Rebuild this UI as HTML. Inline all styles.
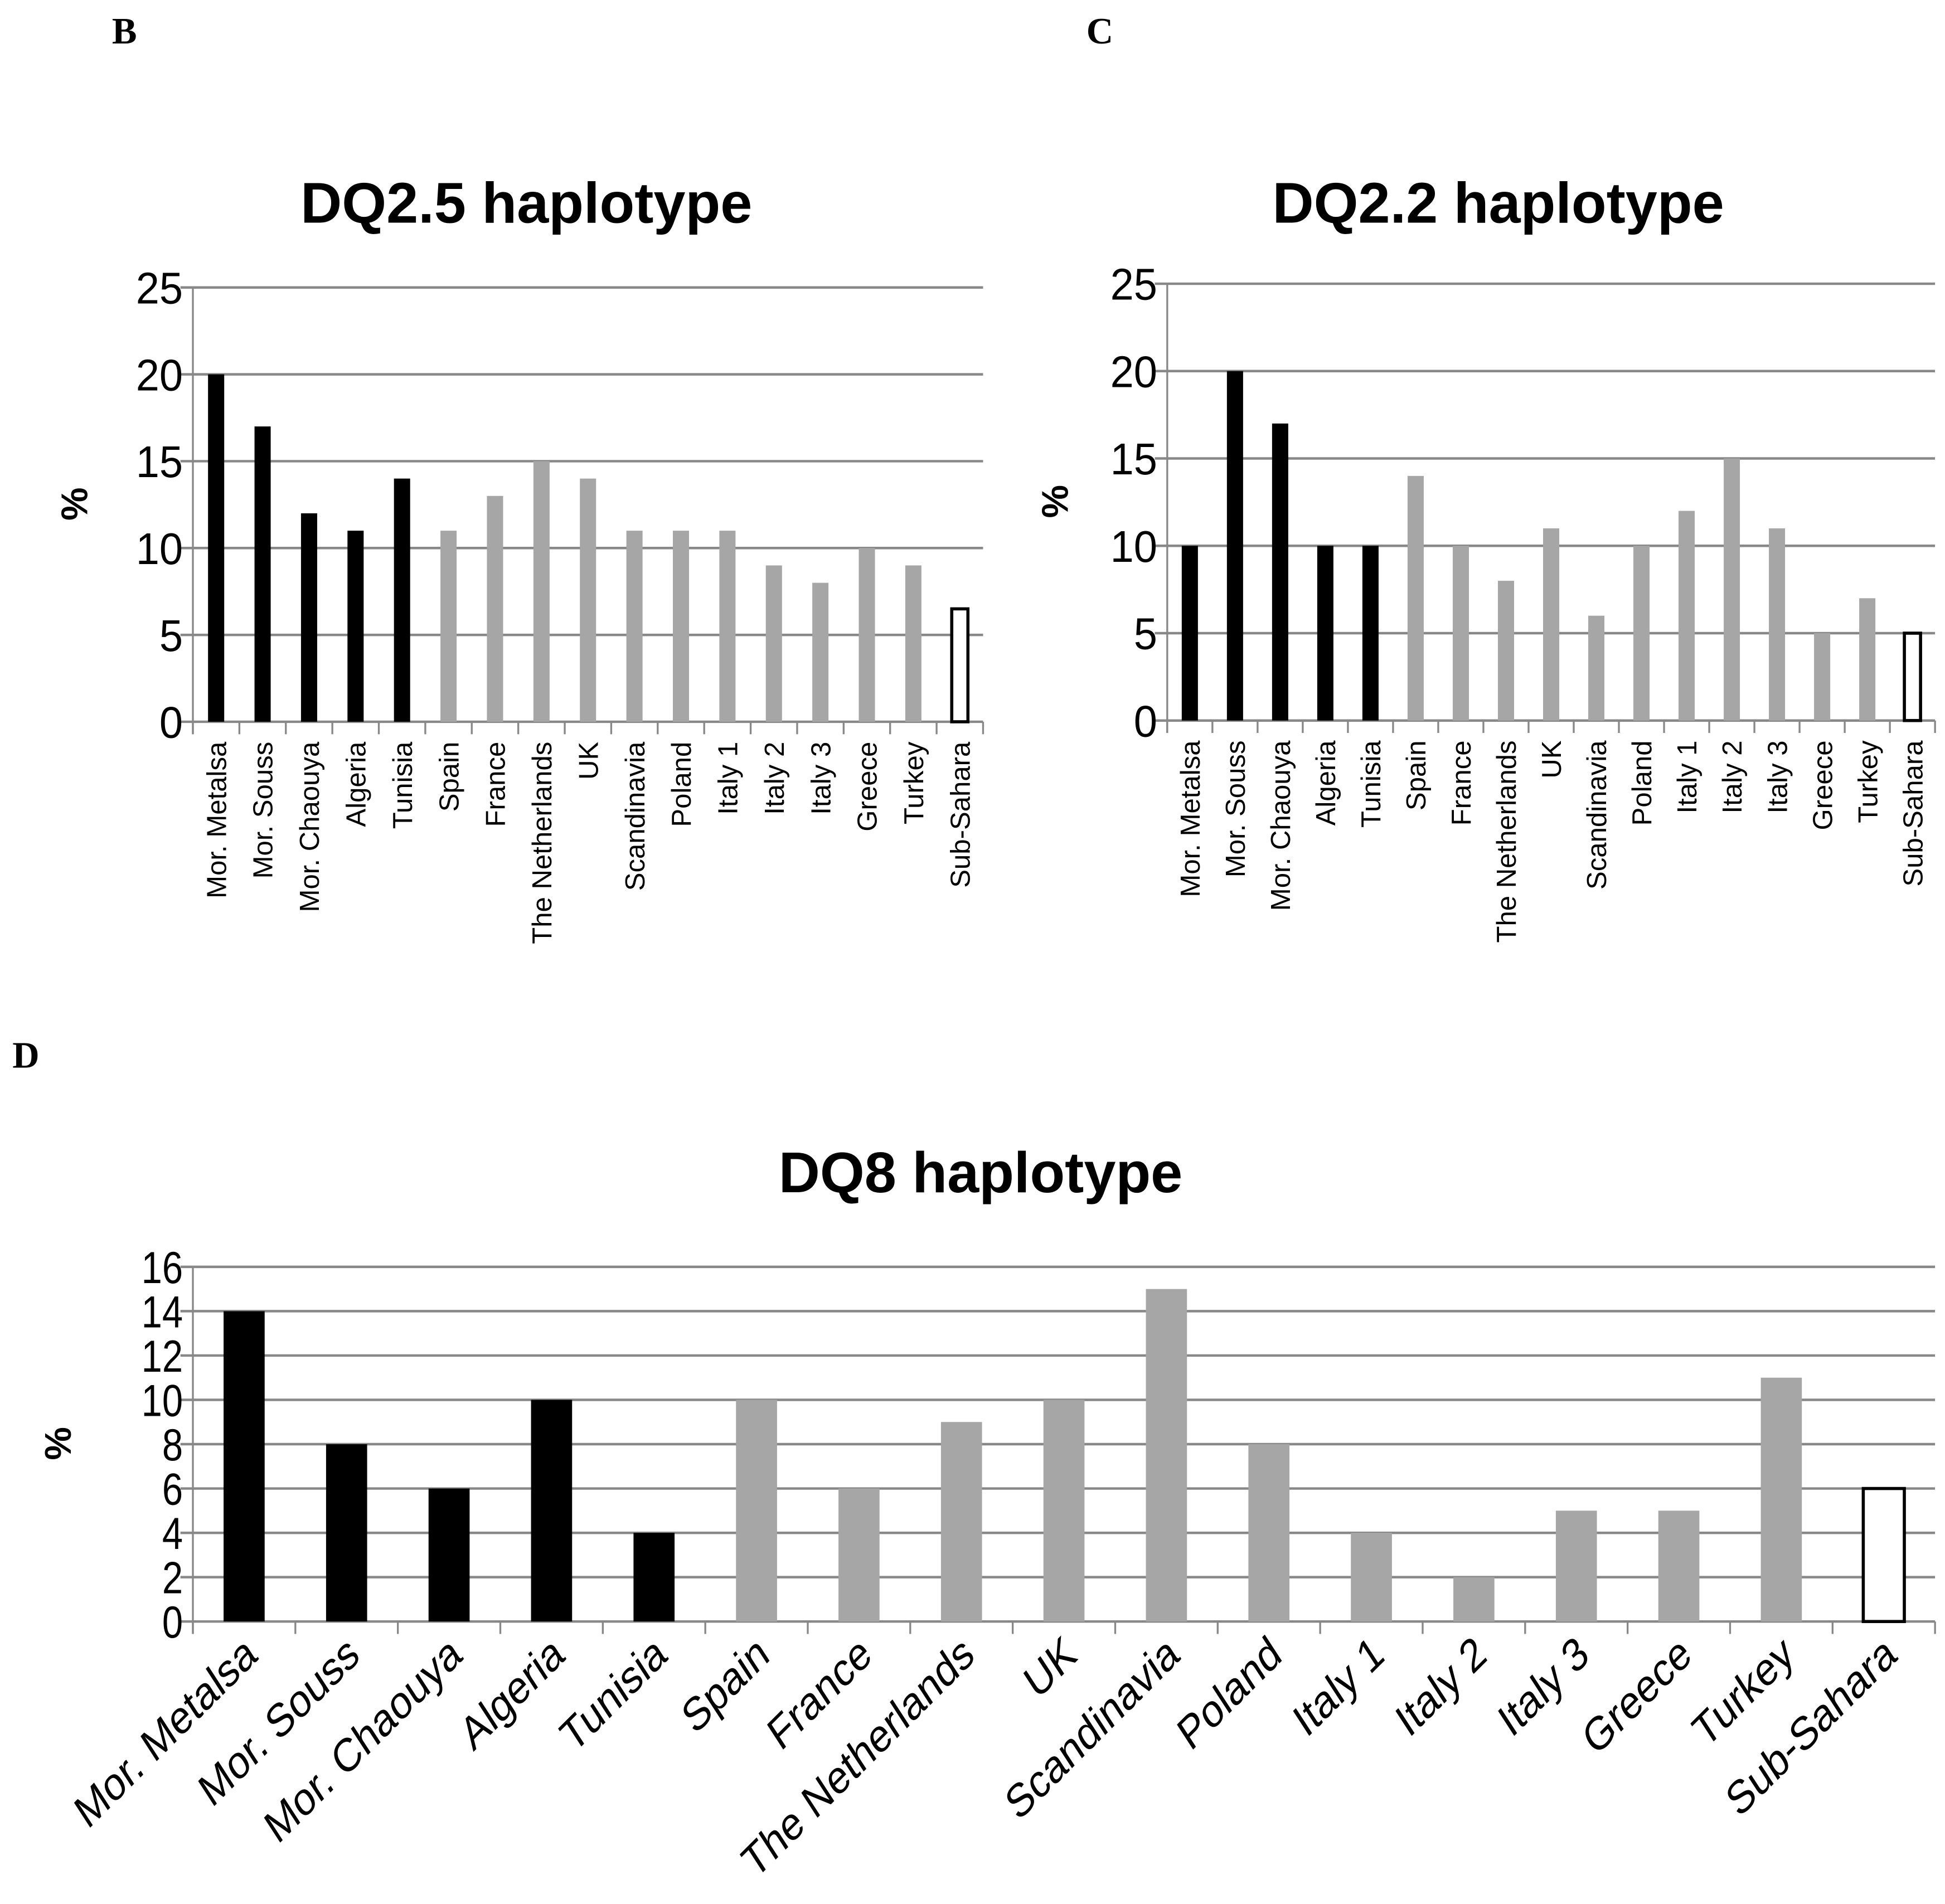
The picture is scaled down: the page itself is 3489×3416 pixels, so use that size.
<!DOCTYPE html>
<html><head><meta charset="utf-8">
<style>
html,body{margin:0;padding:0;background:#fff;}
svg{display:block;}
text{font-family:"Liberation Sans","DejaVu Sans",sans-serif;}
</style></head>
<body>
<svg id="fig" width="3489" height="3416" viewBox="0 0 1563 1530" preserveAspectRatio="none" xmlns="http://www.w3.org/2000/svg">
<text x="90" y="35" style="font-family:'Liberation Serif',serif;font-weight:bold;font-size:30px">B</text>
<text x="873" y="35" style="font-family:'Liberation Serif',serif;font-weight:bold;font-size:30px">C</text>
<text x="10" y="858" style="font-family:'Liberation Serif',serif;font-weight:bold;font-size:30px">D</text>
</svg>
<script>
const categories = ["Mor. Metalsa","Mor. Souss","Mor. Chaouya","Algeria","Tunisia","Spain","France","The Netherlands","UK","Scandinavia","Poland","Italy 1","Italy 2","Italy 3","Greece","Turkey","Sub-Sahara"];
const groupKind = ["n","n","n","n","n","e","e","e","e","e","e","e","e","e","e","e","s"];
const dq25Values = [20,17,12,11,14,11,13,15,14,11,11,11,9,8,10,9,6.5];
const dq22Values = [10,20,17,10,10,14,10,8,11,6,10,12,15,11,5,7,5];
const dq8Values = [14,8,6,10,4,10,6,9,10,15,8,4,2,5,5,11,6];
const ticks25 = [0,5,10,15,20,25];
const ticks16 = [0,2,4,6,8,10,12,14,16];

const NS = "http://www.w3.org/2000/svg";
const svg = document.getElementById('fig');
function mk(tag, attrs, parent){
  const e = document.createElementNS(NS, tag);
  for (const k in attrs) e.setAttribute(k, attrs[k]);
  (parent||svg).appendChild(e);
  return e;
}
function chart(cfg){
  const g = mk('g', {});
  
  
  const ymax = cfg.ticks[cfg.ticks.length-1];
  const y = v => cfg.y0 - (v/ymax)*(cfg.y0-cfg.yTop);
  const n = categories.length;
  const step = (cfg.x1 - cfg.x0)/n;
  const x = i => cfg.x0 + step*(i+0.5);
  const t = mk('text', {x: cfg.titleX, y: cfg.titleY, 'text-anchor':'middle', 'font-weight':'bold', 'font-size': 46}, g);
  t.textContent = cfg.title;
  
  
  cfg.ticks.forEach(v => {
    const ln = mk('line', {x1: cfg.x0-10, x2: cfg.x1, y1: y(v), y2: y(v), stroke:'#888', 'stroke-width': 2}, g);
    
    
    const tl = mk('text', {transform:`translate(${cfg.x0-8},${y(v)+cfg.tickFs*0.36*cfg.tickSy}) scale(1,${cfg.tickSy})`, 'text-anchor':'end', 'font-size': cfg.tickFs}, g);
    tl.textContent = v;
    
    
  });
  const ax = mk('line', {x1: cfg.x0, x2: cfg.x0, y1: cfg.yTop, y2: cfg.y0+10, stroke:'#888', 'stroke-width': 1.5}, g);
  
  
  for (let i=0;i<=n;i++){
    const tk = mk('line', {x1: cfg.x0+step*i, x2: cfg.x0+step*i, y1: cfg.y0, y2: cfg.y0+10, stroke:'#888', 'stroke-width': 1.5}, g);
    
    
  }
  const yt = mk('text', {transform:`translate(${cfg.pctX},${cfg.pctY}) rotate(-90)`, 'text-anchor':'middle', 'font-weight':'bold', 'font-size': 30}, g);
  yt.textContent = '%';
  
  
  cfg.values.forEach((v,i) => {
    const kind = groupKind[i];
    const fill = kind==='n' ? '#000' : kind==='e' ? '#a6a6a6' : '#fff';
    const r = mk('rect', {x: x(i)-cfg.bw/2, y: y(v), width: cfg.bw, height: y(0)-y(v), fill: fill, stroke: kind==='s' ? '#000' : 'none', 'stroke-width': 2.5}, g);
    
    
    let lab;
    if (cfg.rot === -90){
      lab = mk('text', {transform:`translate(${x(i)+cfg.labFs*0.36},${cfg.y0+16}) rotate(-90)`, 'text-anchor':'end', 'font-size': cfg.labFs}, g);
    } else {
      lab = mk('text', {transform:`translate(${x(i)+12},${cfg.y0+30}) rotate(-45) skewX(-12)`, 'text-anchor':'end', 'font-size': cfg.labFs}, g);
    }
    lab.textContent = categories[i];
    
    
  });
}
chart({name:'dq25-chart', title:'DQ2.5 haplotype', titleX:423, titleY:179, values:dq25Values, ticks:ticks25,
  x0:155, x1:790, yTop:231, y0:580, bw:13, tickFs:34, tickSy:1.05, labFs:22, rot:-90, pctX:70, pctY:405});
chart({name:'dq22-chart', title:'DQ2.2 haplotype', titleX:1204, titleY:179, values:dq22Values, ticks:ticks25,
  x0:938, x1:1555, yTop:228, y0:579, bw:13, tickFs:34, tickSy:1.05, labFs:22, rot:-90, pctX:858, pctY:403});
chart({name:'dq8-chart', title:'DQ8 haplotype', titleX:788, titleY:958, values:dq8Values, ticks:ticks16,
  x0:155, x1:1555, yTop:1018, y0:1303, bw:33, tickFs:30, tickSy:1.2, labFs:34, rot:-45, pctX:57, pctY:1160});
</script>
</body></html>
